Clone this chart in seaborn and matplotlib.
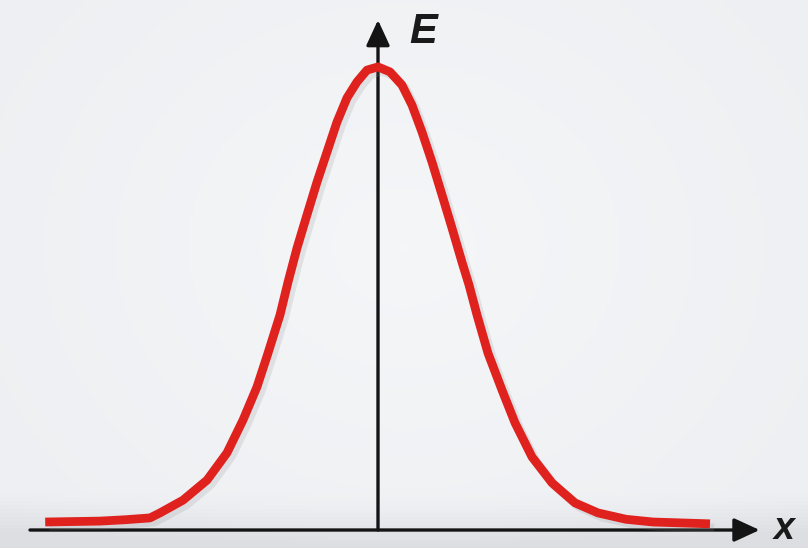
import numpy as np
import matplotlib
matplotlib.use('Agg')
import matplotlib.pyplot as plt
import matplotlib.patheffects as pe
import seaborn as sns

# Points (x in units of the curve width, E relative to the peak)
x_left = [-4.16, -3.475, -3.16, -2.85, -2.725, -2.4375, -2.1375, -1.8875, -1.6875,
          -1.5125, -1.375, -1.225, -1.125, -1.0125, -0.8875, -0.7625, -0.6375,
          -0.5125, -0.3875, -0.2625, -0.1375, 0.0]
e_left = [0.0, 0.002, 0.005, 0.009, 0.020, 0.048, 0.092, 0.152, 0.224,
          0.297, 0.371, 0.455, 0.527, 0.602, 0.675, 0.747, 0.813,
          0.879, 0.932, 0.967, 0.993, 1.0]
x_right = [0.15, 0.3, 0.425, 0.55, 0.675, 0.8, 0.925, 1.05, 1.1375, 1.2375,
           1.375, 1.55, 1.7125, 1.925, 2.175, 2.4625, 2.75, 3.1, 3.4375, 4.15]
e_right = [0.989, 0.960, 0.916, 0.857, 0.791, 0.719, 0.646, 0.571, 0.521, 0.455,
           0.371, 0.29, 0.218, 0.143, 0.086, 0.042, 0.02, 0.006, 0.0, -0.004]
axis_labels = ['x', 'E']

x_vals = x_left + x_right
e_vals = e_left + e_right

sns.set_theme(style='white')
plt.rcParams['font.family'] = ['Liberation Sans', 'DejaVu Sans']

fig = plt.figure(figsize=(8.08, 5.48), dpi=100)
ax = fig.add_axes([0, 0, 1, 1])

# pale grey background, a bit darker towards the bottom edge
gx, gy = np.meshgrid(np.linspace(-1, 1, 200), np.linspace(0, 1, 140))
shade = 0.35 * np.sqrt(gx ** 2 + (1.6 * (gy - 0.55)) ** 2) + 0.7 * np.clip(0.1 - gy, 0, None) / 0.1
bg_cmap = sns.blend_palette(['#f5f6f8', '#eceef1', '#dcdee2'], as_cmap=True)
ax.imshow(shade, cmap=bg_cmap, vmin=0, vmax=1.0, origin='lower',
          extent=[0, 1, 0, 1], transform=ax.transAxes, aspect='auto', zorder=0)

ax.set_xlim(-4.725, 5.375)
ax.set_ylim(-0.0571, 1.147)
ax.axis('off')

axis_y = -0.0176
shadow = [pe.SimpleLineShadow(offset=(3, -3), shadow_color='#8a8c90', alpha=0.18),
          pe.Normal()]

# axes with arrow heads
arrow = dict(arrowstyle='-|>,head_length=1.3,head_width=0.6',
             color='#141414', lw=2.4, shrinkA=0, shrinkB=0)
ax.annotate('', xy=(4.77, axis_y), xytext=(-4.35, axis_y),
            arrowprops=arrow, zorder=3)
ax.annotate('', xy=(0.0, 1.103), xytext=(0.0, axis_y),
            arrowprops=arrow, zorder=3)

sns.lineplot(x=x_vals, y=e_vals, ax=ax, color='#e0221e', linewidth=6.3,
             sort=False, zorder=4, path_effects=shadow,
             solid_joinstyle='round', solid_capstyle='butt')

ax.text(5.08, -0.0374, axis_labels[0], fontsize=27, fontweight='bold',
        style='italic', color='#1a1a1a', ha='center', va='baseline', zorder=5)
ax.text(0.56, 1.053, axis_labels[1], fontsize=30, fontweight='bold',
        style='italic', color='#1a1a1a', ha='center', va='baseline', zorder=5)

plt.savefig('out.png', dpi=100)
